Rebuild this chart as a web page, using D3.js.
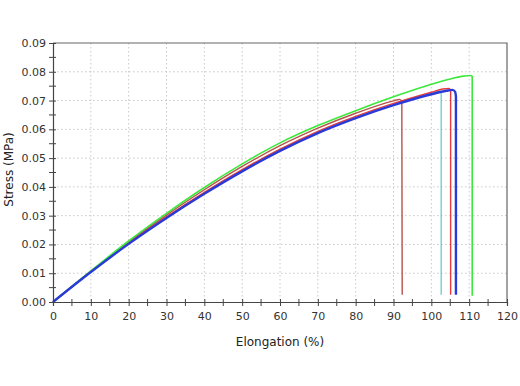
<!DOCTYPE html>
<html>
<head>
<meta charset="utf-8">
<style>
  body { margin: 0; background: #fff; }
  .tick text { font-family: "DejaVu Sans", Verdana, sans-serif; font-size: 11px; fill: #333; }
  .grid line { stroke: #c8c8c8; stroke-dasharray: 1.5,2.5; }
  .lbl { font-family: "DejaVu Sans", Verdana, sans-serif; font-size: 12px; fill: #222; }
</style>
</head>
<body>
<div id="chart"></div>
<script src="https://cdn.jsdelivr.net/npm/d3@7"></script>
<script>

// tick values
var xTicks = [0, 10, 20, 30, 40, 50, 60, 70, 80, 90, 100, 110, 120];
var yTicks = [0, 0.01, 0.02, 0.03, 0.04, 0.05, 0.06, 0.07, 0.08, 0.09];

// specimen curves (elongation %, stress MPa)
var cyanE   = [0, 10, 20, 30, 40, 50, 60, 70, 80, 90, 100, 102.3, 102.6, 102.6];
var cyanS   = [0, 0.0104, 0.0203, 0.0294, 0.0378, 0.0457, 0.0528, 0.0590, 0.0641, 0.0686, 0.0725, 0.0733, 0.0729, 0.0025];

var redE    = [0, 10, 20, 30, 40, 50, 60, 70, 80, 90, 100, 103, 104.7, 105.1, 105.1];
var redS    = [0, 0.0105, 0.0205, 0.0296, 0.0381, 0.0460, 0.0531, 0.0593, 0.0645, 0.0690, 0.0729, 0.0740, 0.0742, 0.0736, 0.0025];

var brownE  = [0, 10, 20, 30, 40, 50, 60, 70, 80, 90, 91.6, 92.2, 92.3];
var brownS  = [0, 0.0106, 0.0208, 0.0302, 0.0390, 0.0471, 0.0543, 0.0604, 0.0656, 0.0699, 0.0704, 0.0698, 0.0025];

var greenE  = [0, 10, 20, 30, 40, 50, 60, 70, 80, 90, 100, 105, 108, 110.4, 110.8, 110.8];
var greenS  = [0, 0.0108, 0.0212, 0.0308, 0.0398, 0.0480, 0.0553, 0.0613, 0.0665, 0.0713, 0.0757, 0.0775, 0.0784, 0.0787, 0.0784, 0.0022];

var blueE   = [0, 10, 20, 30, 40, 50, 60, 70, 80, 90, 100, 104, 105.6, 106.3, 106.5, 106.5];
var blueS   = [0, 0.0104, 0.0202, 0.0292, 0.0376, 0.0454, 0.0525, 0.0587, 0.0639, 0.0684, 0.0722, 0.0734, 0.0737, 0.0730, 0.0715, 0.0025];

var series = [
  { e: cyanE,  s: cyanS,  color: "#5cc8d0", w: 1.2 },
  { e: brownE, s: brownS, color: "#b5524a", w: 1.4 },
  { e: redE,   s: redS,   color: "#e83a3a", w: 1.4 },
  { e: greenE, s: greenS, color: "#3ce83c", w: 1.6 },
  { e: blueE,  s: blueS,  color: "#2a3ad8", w: 2.4 }
];

var margin = {top: 43, right: 13, bottom: 84, left: 53},
    width = 520 - margin.left - margin.right,
    height = 386 - margin.top - margin.bottom;

var svg = d3.select("#chart").append("svg")
    .attr("width", 520)
    .attr("height", 386)
    .append("g")
    .attr("transform", "translate(" + margin.left + "," + margin.top + ")");

var x = d3.scaleLinear().domain([0, 120]).range([0, width]);
var y = d3.scaleLinear().domain([0, 0.09]).range([height, 0]);

// grid
svg.append("g").attr("class", "grid")
    .selectAll("line").data(xTicks.slice(1, -1)).enter().append("line")
    .attr("x1", function(d) { return x(d); }).attr("x2", function(d) { return x(d); })
    .attr("y1", 0).attr("y2", height);
svg.append("g").attr("class", "grid")
    .selectAll("line").data(yTicks.slice(1, -1)).enter().append("line")
    .attr("y1", function(d) { return y(d); }).attr("y2", function(d) { return y(d); })
    .attr("x1", 0).attr("x2", width);

// frame top / right
svg.append("path")
    .attr("d", "M0,0H" + width + "V" + height)
    .attr("fill", "none").attr("stroke", "#666").attr("stroke-width", 1.2);

// curves
var line = d3.line()
    .x(function(d) { return x(d[0]); })
    .y(function(d) { return y(d[1]); })
    .curve(d3.curveMonotoneX);

series.forEach(function(sr) {
  var pts = sr.e.map(function(v, i) { return [v, sr.s[i]]; });
  var n = pts.length;
  // smooth rising part, then the straight drop at break
  var path = line(pts.slice(0, n - 1)) + "L" + x(pts[n - 1][0]) + "," + y(pts[n - 1][1]);
  svg.append("path")
      .attr("d", path)
      .attr("fill", "none")
      .attr("stroke", sr.color)
      .attr("stroke-width", sr.w)
      .attr("stroke-linejoin", "round");
});

// minor ticks
svg.append("g").selectAll("line").data(d3.range(5, 120, 10)).enter().append("line")
    .attr("x1", function(d) { return x(d); }).attr("x2", function(d) { return x(d); })
    .attr("y1", height - 3).attr("y2", height + 4)
    .attr("stroke", "#444");
svg.append("g").selectAll("line").data(d3.range(0.005, 0.09, 0.01)).enter().append("line")
    .attr("y1", function(d) { return y(d); }).attr("y2", function(d) { return y(d); })
    .attr("x1", -4).attr("x2", 3)
    .attr("stroke", "#444");

// axes
var xAxis = svg.append("g")
    .attr("transform", "translate(0," + height + ")")
    .call(d3.axisBottom(x).tickValues(xTicks).tickSize(4).tickPadding(6));
var yAxis = svg.append("g")
    .call(d3.axisLeft(y).tickValues(yTicks).tickSize(4).tickPadding(3)
      .tickFormat(d3.format(".2f")));
[xAxis, yAxis].forEach(function(a) {
  a.select(".domain").attr("stroke", "#444").attr("stroke-width", 1.2);
  a.selectAll(".tick line").attr("stroke", "#444");
});
xAxis.selectAll(".tick line").attr("y1", -3);
yAxis.selectAll(".tick line").attr("x2", 3).attr("x1", -4);

svg.append("text").attr("class", "lbl")
    .attr("x", width / 2).attr("y", height + 44)
    .attr("text-anchor", "middle")
    .text("Elongation (%)");
svg.append("text").attr("class", "lbl")
    .attr("transform", "rotate(-90)")
    .attr("x", -(height / 2) + 3).attr("y", -40)
    .attr("text-anchor", "middle")
    .text("Stress (MPa)");

</script>
</body>
</html>
